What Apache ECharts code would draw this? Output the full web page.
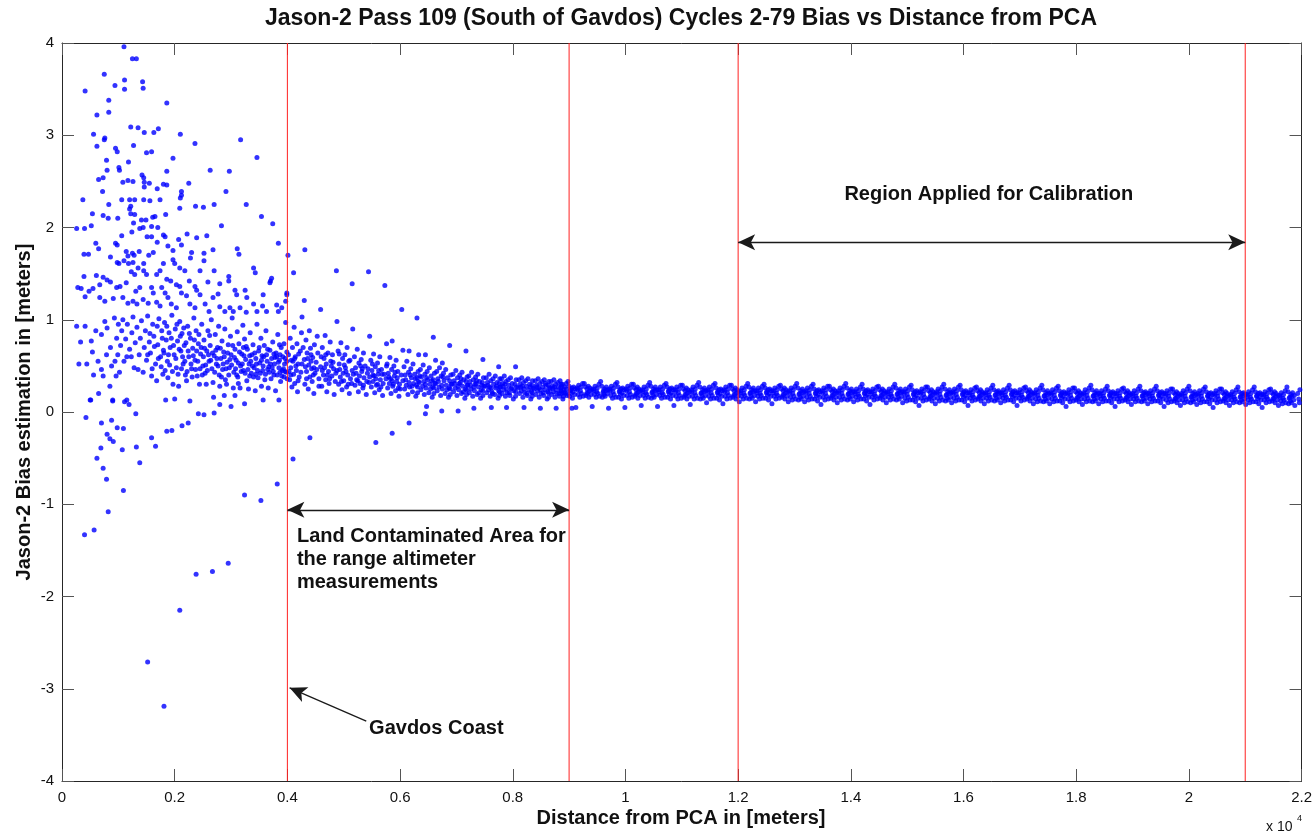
<!DOCTYPE html>
<html>
<head>
<meta charset="utf-8">
<title>Jason-2 Pass 109 Bias vs Distance</title>
<script src="https://cdn.jsdelivr.net/npm/echarts@6/dist/echarts.min.js"></script>
<style>
  html, body { margin: 0; padding: 0; background: #fff; }
  #divChart { width: 1315px; height: 832px; }
</style>
</head>
<body>
<div id="divChart"></div>
<script>
// distance from PCA in meters, bias in meters

// points above 1.05 m near the coast
var coastHigh = [
  [1100,3.96],[1250,3.83],[1320,3.83],[750,3.66],[1110,3.60],[1430,3.58],[1440,3.51],[410,3.48],[940,3.54],[1110,3.50],
  [830,3.38],[1860,3.35],[830,3.25],[620,3.22],[1220,3.09],[1350,3.08],[1460,3.03],[1630,3.03],[1710,3.07],[2100,3.01],
  [560,3.01],[760,2.97],[750,2.95],[620,2.88],[1270,2.89],[950,2.86],[2360,2.91],[3170,2.95],[1500,2.81],[1590,2.82],
  [980,2.82],[3460,2.76],[1970,2.75],[790,2.73],[1010,2.65],[1020,2.62],[1180,2.71],[2630,2.62],[2970,2.61],[1860,2.61],
  [800,2.62],[1420,2.57],[1450,2.54],[650,2.52],[730,2.54],[1080,2.49],[1170,2.51],[1260,2.50],[1460,2.49],[1550,2.48],
  [1800,2.47],[1860,2.46],[2250,2.48],[1460,2.44],[720,2.39],[1690,2.42],[2120,2.39],[2120,2.35],[2910,2.39],[1060,2.30],
  [1200,2.30],[1290,2.30],[1450,2.30],[1560,2.29],[370,2.30],[830,2.25],[1740,2.30],[3270,2.25],[1220,2.23],[1200,2.20],
  [2370,2.23],[2510,2.22],[2090,2.21],[2700,2.25],[2100,2.32],[540,2.15],[730,2.13],[820,2.10],[1220,2.15],[1290,2.14],
  [1610,2.11],[1650,2.12],[1840,2.14],[990,2.10],[1410,2.08],[1490,2.08],[3540,2.12],[1270,2.05],[3740,2.04],[1590,2.01],
  [1700,2.00],[260,1.99],[400,1.99],[520,2.02],[2830,2.02],[1380,1.99],[1440,2.00],[1240,1.95],[1510,1.90],[1590,1.90],
  [1060,1.91],[600,1.83],[650,1.77],[950,1.83],[980,1.81],[1800,1.92],[1830,1.90],[1690,1.84],[2070,1.87],[2120,1.81],
  [2220,1.93],[2390,1.89],[2570,1.91],[2680,1.76],[3110,1.77],[3840,1.83],[1140,1.74],[1170,1.69],[1250,1.72],[1280,1.70],
  [1370,1.74],[1540,1.70],[1620,1.73],[390,1.71],[470,1.71],[860,1.68],[1880,1.80],[1970,1.75],[2300,1.73],[2280,1.67],
  [2520,1.72],[2520,1.64],[3140,1.71],[980,1.62],[1010,1.61],[1100,1.64],[1180,1.61],[1260,1.62],[1350,1.56],[1450,1.61],
  [1800,1.61],[1970,1.65],[2000,1.61],[2090,1.56],[2180,1.53],[2450,1.53],[2700,1.53],[610,1.48],[390,1.47],[730,1.46],
  [1230,1.52],[1290,1.49],[1450,1.53],[1500,1.49],[1680,1.49],[1740,1.53],[1860,1.44],[1930,1.42],[2030,1.38],[2090,1.36],
  [2260,1.42],[2360,1.36],[2590,1.41],[2800,1.39],[2960,1.47],[2960,1.42],[3400,1.56],[3430,1.51],[3700,1.42],[280,1.35],
  [340,1.34],[480,1.31],[550,1.34],[670,1.38],[800,1.43],[860,1.41],[970,1.35],[1030,1.36],[1140,1.40],[1310,1.31],
  [1380,1.35],[1590,1.35],[1620,1.29],[1770,1.35],[1830,1.29],[1880,1.24],[2120,1.29],[2210,1.26],[2390,1.32],[2450,1.27],
  [2680,1.24],[2770,1.28],[3070,1.32],[3100,1.27],[3250,1.32],[3280,1.24],[3570,1.27],[410,1.25],[670,1.24],[760,1.20],
  [910,1.23],[1080,1.24],[1170,1.18],[1260,1.20],[1330,1.17],[1440,1.22],[1530,1.18],[1680,1.19],[1740,1.15],[1940,1.17],
  [2030,1.13],[2270,1.17],[2360,1.13],[2540,1.17],[2610,1.09],[2800,1.14],[2890,1.09],[2980,1.13],[3040,1.09],[3160,1.13],
  [3270,1.08],[3400,1.17],[3460,1.09],[3560,1.15],[3630,1.09],[3810,1.16],[3900,1.13],[3990,1.27]
];

// main cloud near the coast, 0 to about 1 m
var coastCore = [
  [260,0.93],[300,0.52],[330,0.76],[410,0.93],[440,0.52],[500,0.13],[520,0.77],[540,0.65],[560,0.40],[600,0.88],
  [640,0.55],[650,0.20],[700,0.46],[700,0.84],[730,0.39],[760,0.98],[790,0.62],[800,0.91],[850,0.28],[860,0.70],
  [880,0.50],[900,0.12],[930,1.02],[940,0.55],[960,0.39],[970,0.80],[990,0.62],[1000,0.95],
  [1020,0.43],[1040,0.72],[1060,0.88],[1080,1.00],[1100,0.55],[1110,0.11],[1130,0.79],[1150,0.60],[1160,0.95],[1190,0.08],
  [1200,0.68],[1230,0.60],[1240,0.86],[1260,1.03],[1280,0.48],[1300,0.75],[1330,0.92],[1350,0.46],[1370,0.62],[1390,0.80],
  [1410,0.99],[1440,0.43],[1460,0.70],[1480,0.88],[1500,0.56],[1520,1.04],[1550,0.76],[1570,0.64],[1590,0.39],[1610,0.95],
  [1630,0.82],[1660,0.52],[1680,0.34],[1700,0.73],[1720,1.01],[1750,0.60],[1770,0.88],[1790,0.41],[1800,0.67],[1820,0.97],
  [1850,0.78],[1870,0.55],[1880,0.37],[1900,0.86],[1920,0.70],[1950,1.05],[1970,0.30],[1990,0.62],[2000,0.14],[2010,0.90],
  [2030,0.48],[2050,0.77],[2070,0.28],[2090,0.98],[2110,0.66],[2130,0.85],[2150,0.52],[2170,0.72],[2190,0.40],[2210,0.34],
  [2230,0.93],[2250,0.60],[2270,0.12],[2280,0.80],[2300,0.47],[2320,0.69],[2340,1.02],[2360,0.56],[2380,0.88],[2400,0.39],
  [2420,0.74],[2440,0.30],[2460,0.63],[2480,0.95],[2500,0.50],
  [2520,0.78],[2540,0.42],[2560,0.30],[2570,0.66],[2590,0.88],[2610,0.55],[2630,0.72],[2650,1.00],[2660,0.47],[2680,0.32],
  [2690,0.16],[2700,0.61],[2720,0.84],[2740,0.52],[2760,0.70],[2780,0.93],[2790,0.40],[2800,0.28],[2820,0.58],[2840,0.77],
  [2850,0.46],[2870,0.65],[2890,0.90],[2900,0.35],[2920,0.30],[2930,0.54],[2950,0.73],[2970,0.48],[2990,0.82],[3000,0.62],
  [3020,1.02],[3040,0.26],[3050,0.43],[3070,0.18],[3070,0.68],[3090,0.56],[3110,0.87],[3120,0.38],[3140,0.74],[3160,0.26],
  [3170,0.50],[3190,0.63],[3210,0.94],[3220,0.45],[3240,0.79],[3260,0.57],[3280,0.34],[3290,0.68],[3310,0.25],[3320,0.52],
  [3340,0.86],[3360,0.42],[3370,0.62],[3390,0.73],[3410,0.48],[3430,0.23],[3440,0.58],[3460,0.95],[3480,0.37],[3490,0.66],
  [3510,0.53],[3530,0.80],[3540,0.28],[3560,0.45],[3580,0.60],[3590,0.72],[3610,0.41],[3620,0.88],[3640,0.55],[3660,0.26],
  [3670,0.49],[3690,0.67],[3710,0.36],[3720,0.58],[3740,0.76],[3750,0.44],[3770,0.52],[3790,0.23],[3800,0.64],[3820,0.40],
  [3830,0.84],[3850,0.48],[3860,0.56],[3880,0.33],[3890,0.70],[3910,0.45],[3920,0.60],[3940,0.38],[3950,0.52],[3970,0.97],
  [3980,0.43],[3990,0.65],
  [2600,0.62],[2750,0.58],[2860,0.52],[2980,0.57],[3080,0.47],[3180,0.44],[3230,0.61],[3300,0.46],[3350,0.55],[3420,0.64],
  [3470,0.45],[3520,0.42],[3570,0.50],[3630,0.62],[3680,0.43],[3730,0.48],[3780,0.59],[3840,0.54],[3870,0.43],[3930,0.47],
  [3960,0.58],
  [2800,0.08],[2880,0.18],[3000,0.06],[3240,0.09],[3570,0.13],[3850,0.13],[2420,-0.02],[2520,-0.03],[2700,-0.01],[2130,-0.15],
  [2240,-0.12],[1150,0.13],[1840,0.13],[900,0.13],[510,0.13]
];

// extra density in the coastal cloud, 1.5 to 6 km
var coastExtra = [
  [1520,0.62],[1560,0.85],[1600,0.47],[1640,0.71],[1690,0.93],[1710,0.58],[1760,0.49],[1780,0.80],[1810,0.64],[1830,0.45],
  [1860,0.93],[1890,0.62],[1910,0.51],[1940,0.80],[1960,0.44],[1980,0.72],[2020,0.58],[2040,0.95],[2060,0.41],[2080,0.68],
  [2100,0.82],[2120,0.47],[2140,0.60],[2160,0.91],[2180,0.55],[2200,0.75],[2220,0.44],[2240,0.66],[2260,0.85],[2290,0.52],
  [2310,0.38],[2330,0.61],[2350,0.78],[2370,0.46],[2390,0.66],[2410,0.55],[2430,0.84],[2450,0.47],[2470,0.70],[2490,0.40],
  [2510,0.60],[2530,0.69],[2550,0.51],[2580,0.45],[2620,0.83],[2640,0.56],[2670,0.64],[2710,0.43],[2730,0.67],[2770,0.50],
  [2810,0.69],[2830,0.38],[2880,0.60],[2910,0.47],[2940,0.64],[2960,0.40],[3010,0.51],[3030,0.72],[3060,0.59],[3100,0.40],
  [3130,0.53],[3150,0.65],[3200,0.52],[3250,0.42],[3270,0.71],[3330,0.61],[3380,0.50],[3400,0.38],[3450,0.52],[3500,0.70],
  [3550,0.61],[3600,0.35],[3650,0.68],[3700,0.52],[3760,0.40],[3810,0.60],[3870,0.62],[3900,0.39],[3960,0.44],[3990,0.55],
  [3995,0.36],[3940,0.74],[3860,0.73],[3760,0.63],[3650,0.46],[3540,0.56],[3440,0.41],[3330,0.39],[3220,0.70],[3130,0.31],
  [4030,0.44],[4070,0.56],[4150,0.50],[4200,0.63],[4240,0.43],[4320,0.49],[4360,0.58],[4420,0.62],[4460,0.40],[4520,0.46],
  [4560,0.36],[4600,0.60],[4660,0.48],[4710,0.40],[4780,0.50],[4850,0.33],[4930,0.46],[5010,0.51],[5080,0.30],[5150,0.45],
  [5250,0.34],[5330,0.47],[5420,0.42],[5520,0.40],[5600,0.30],[5680,0.41],[5800,0.38],[5880,0.30],[5950,0.37],[6000,0.25]
];

// negative outliers
var coastLow = [
  [425,-0.06],[700,-0.12],[880,-0.09],[800,-0.24],[850,-0.29],[910,-0.32],[980,-0.17],[1090,-0.18],[1070,-0.41],[620,-0.50],
  [690,-0.39],[730,-0.61],[790,-0.73],[1090,-0.85],[820,-1.08],[400,-1.33],[570,-1.28],[1310,-0.02],[1320,-0.38],[1380,-0.55],
  [1590,-0.28],[1660,-0.37],[1860,-0.21],[1950,-0.20],[2090,-2.15],[2380,-1.76],[2670,-1.73],[2950,-1.64],[3240,-0.90],[3530,-0.96],
  [3820,-0.78],[1520,-2.71],[1810,-3.19],[4100,-0.51],[4400,-0.28],[5570,-0.33],[5860,-0.23],[6160,-0.12],[6450,-0.02]
];

// 4 to 9 km, cloud narrowing offshore
var shelfOutliers = [
  [4010,1.70],[4310,1.76],[4110,1.51],[4870,1.53],[5440,1.52],[5150,1.39],[5730,1.37],[3990,1.29],[3720,1.45],[3690,1.40],
  [3970,1.20],[4300,1.21],[4590,1.11],[6030,1.11],[6300,1.02],[3840,1.09],[4260,1.03],[4880,0.98],[5160,0.90],[5460,0.82],
  [6590,0.81],[6880,0.72],[7170,0.66],[7470,0.57],[5760,0.74],[5860,0.77],[6050,0.67],[6160,0.66],[6330,0.62],[6450,0.62],
  [6630,0.56],[6750,0.53],[7750,0.49],[8050,0.49],[6470,0.06],[7030,0.01],[6740,0.01],[7310,0.04],[7620,0.05],[7890,0.05],
  [8200,0.05],[8490,0.04],[8770,0.04],[9050,0.04]
];

var shelf = [
  [4020,0.62],[4040,0.35],[4050,0.80],[4060,0.48],[4080,0.27],[4090,0.70],[4100,0.55],[4110,0.41],[4120,0.92],[4130,0.31],
  [4140,0.60],[4160,0.45],[4170,0.74],[4180,0.22],[4190,0.52],[4210,0.38],[4230,0.66],[4250,0.86],
  [4300,0.57],[4310,0.30],[4330,0.78],[4340,0.44],[4350,0.64],[4370,0.25],[4380,0.51],[4390,0.88],[4400,0.38],[4410,0.69],
  [4430,0.47],[4440,0.33],[4450,0.59],[4470,0.20],[4480,0.73],[4490,0.42],[4510,0.54],[4530,0.82],
  [4590,0.49],[4610,0.28],[4620,0.70],[4640,0.40],[4650,0.58],[4670,0.83],[4680,0.35],[4690,0.52],[4700,0.22],[4720,0.64],
  [4730,0.44],[4740,0.31],[4760,0.76],[4770,0.55],[4790,0.39],[4800,0.62],[4820,0.47],[4830,0.19],
  [4880,0.45],[4900,0.66],[4910,0.30],[4920,0.52],[4940,0.38],[4950,0.75],[4970,0.24],[4980,0.58],[4990,0.42],[5000,0.34],
  [5020,0.62],[5030,0.48],[5050,0.27],[5060,0.70],[5070,0.40],[5090,0.55],[5100,0.20],[5120,0.36],
  [5170,0.41],[5190,0.60],[5200,0.29],[5210,0.48],[5230,0.35],[5240,0.68],[5260,0.22],[5270,0.53],[5280,0.39],[5290,0.31],
  [5310,0.57],[5320,0.44],[5340,0.26],[5350,0.64],[5360,0.37],[5380,0.50],[5400,0.19],[5410,0.33],
  [5460,0.38],[5480,0.56],[5490,0.27],[5500,0.45],[5520,0.33],[5530,0.63],[5550,0.21],[5560,0.49],[5570,0.36],[5580,0.29],
  [5600,0.53],[5610,0.41],[5630,0.24],[5640,0.60],[5650,0.35],[5670,0.46],[5690,0.18],[5700,0.31],
  [5750,0.36],[5770,0.52],[5780,0.26],[5790,0.42],[5810,0.31],[5820,0.59],[5840,0.20],[5850,0.46],[5860,0.34],[5870,0.28],
  [5890,0.50],[5900,0.39],[5920,0.23],[5930,0.56],[5940,0.33],[5960,0.44],[5980,0.17],[5990,0.30],
  [6050,0.34],[6070,0.49],[6080,0.25],[6090,0.40],[6110,0.29],[6120,0.55],[6140,0.19],[6150,0.43],[6160,0.32],[6170,0.27],
  [6190,0.47],[6200,0.37],[6220,0.22],[6230,0.52],[6240,0.31],[6260,0.41],[6280,0.17],[6290,0.29],
  [6340,0.32],[6360,0.46],[6370,0.24],[6380,0.38],[6400,0.28],[6410,0.51],[6430,0.19],[6440,0.41],[6450,0.30],[6460,0.26],
  [6480,0.44],[6490,0.35],[6510,0.21],[6520,0.48],[6530,0.30],[6550,0.39],[6570,0.16],[6580,0.27],
  [6630,0.31],[6650,0.44],[6660,0.23],[6670,0.36],[6690,0.27],[6700,0.48],[6720,0.18],[6730,0.39],[6740,0.29],[6750,0.25],
  [6770,0.42],[6780,0.34],[6800,0.20],[6810,0.46],[6820,0.29],[6840,0.37],[6860,0.16],[6870,0.26],
  [6920,0.30],[6940,0.41],[6950,0.22],[6960,0.34],[6980,0.26],[6990,0.45],[7010,0.18],[7020,0.37],[7030,0.28],[7040,0.24],
  [7060,0.40],[7070,0.32],[7090,0.20],[7100,0.43],[7110,0.28],[7130,0.35],[7150,0.15],[7160,0.25],
  [7200,0.29],[7220,0.39],[7230,0.21],[7240,0.33],[7260,0.25],[7270,0.43],[7290,0.17],[7300,0.35],[7310,0.27],[7320,0.23],
  [7340,0.38],[7350,0.31],[7370,0.19],[7380,0.41],[7390,0.27],[7410,0.33],[7430,0.15],[7440,0.24],
  [7510,0.28],[7530,0.37],[7540,0.21],[7550,0.32],[7570,0.24],[7580,0.41],[7600,0.17],[7610,0.34],[7620,0.26],[7630,0.22],
  [7650,0.36],[7660,0.30],[7680,0.19],[7690,0.39],[7700,0.26],[7720,0.32],[7740,0.15],[7750,0.23],
  [7780,0.27],[7800,0.36],[7810,0.20],[7820,0.31],[7840,0.24],[7850,0.39],[7870,0.17],[7880,0.33],[7890,0.25],[7900,0.21],
  [7920,0.35],[7930,0.29],[7950,0.18],[7960,0.37],[7970,0.25],[7990,0.31],[8010,0.14],[8020,0.23],
  [8090,0.26],[8110,0.35],[8120,0.20],[8130,0.30],[8150,0.23],[8160,0.37],[8180,0.16],[8190,0.32],[8200,0.25],[8210,0.21],
  [8230,0.34],[8240,0.28],[8260,0.18],[8270,0.36],[8280,0.24],[8300,0.30],[8320,0.14],[8330,0.22],
  [8380,0.25],[8400,0.34],[8410,0.19],[8420,0.29],[8440,0.23],[8450,0.36],[8470,0.16],[8480,0.31],[8490,0.24],[8500,0.20],
  [8520,0.33],[8530,0.27],[8550,0.18],[8560,0.35],[8570,0.24],[8590,0.29],[8610,0.14],[8620,0.22],
  [8660,0.25],[8680,0.33],[8690,0.19],[8700,0.28],[8720,0.22],[8730,0.35],[8750,0.16],[8760,0.30],[8770,0.24],[8780,0.20],
  [8800,0.32],[8810,0.27],[8830,0.17],[8840,0.34],[8850,0.23],[8870,0.28],[8890,0.14],[8900,0.21]
];

// samples falling between the shelf tracks
var shelfFill = [
  [6300,0.37],[6310,0.27],[6320,0.44],[6310,0.21],[6325,0.33],[6590,0.35],[6600,0.26],[6610,0.42],[6600,0.20],[6615,0.31],
  [6880,0.34],[6890,0.25],[6900,0.40],[6890,0.19],[6905,0.30],[7170,0.33],[7180,0.24],[7190,0.38],[7180,0.19],[7195,0.29],
  [7460,0.32],[7470,0.23],[7480,0.37],[7470,0.18],[7485,0.28],[7760,0.31],[7765,0.22],[7770,0.36],[7765,0.18],[7775,0.27],
  [8040,0.30],[8050,0.22],[8060,0.35],[8050,0.17],[8065,0.27],[8340,0.29],[8345,0.21],[8350,0.34],[8345,0.17],[8360,0.26],
  [8630,0.29],[8635,0.21],[8640,0.33],[8635,0.16],[8650,0.26],
  [7050,0.31],[7120,0.22],[7330,0.30],[7400,0.21],[7560,0.29],[7640,0.20],[7830,0.28],[7940,0.21],[8140,0.27],[8250,0.20],
  [8430,0.27],[8540,0.21],[8710,0.26],[8820,0.20],[8950,0.25],[8960,0.20],
  [4060,0.40],[4130,0.58],[4190,0.34],[4260,0.52],[4280,0.70],[4340,0.36],[4420,0.55],[4470,0.48],[4540,0.64],[4560,0.28],
  [4620,0.45],[4680,0.62],[4750,0.36],[4810,0.54],[4860,0.42],[4920,0.63],[4960,0.33],[5040,0.44],[5110,0.56],[5140,0.31],
  [5220,0.42],[5300,0.50],[5350,0.29],[5430,0.47],[5450,0.32],[5510,0.52],[5540,0.39],[5620,0.45],[5660,0.27],[5720,0.41],
  [5760,0.50],[5830,0.36],[5910,0.43],[5970,0.26],[6020,0.40],[6100,0.35],[6180,0.40],[6210,0.28],[6270,0.36],[6350,0.39],
  [6420,0.33],[6470,0.37],[6540,0.25],[6560,0.34],[6680,0.33],[6760,0.38],[6830,0.24],[6970,0.31],[7080,0.36],[7250,0.29],
  [7360,0.34],[7450,0.29],[7590,0.27],[7710,0.28],[7860,0.30],[7980,0.26],[8170,0.28],[8310,0.27],[8460,0.26],[8580,0.31],
  [8740,0.27],[8860,0.30]
];

// open sea, 9 to 22 km
var openSea = [
  [8980,0.33],[9000,0.28],[9010,0.17],[9030,0.24],[9040,0.20],[9050,0.26],[9060,0.15],[9070,0.22],[9080,0.27],[9100,0.19],[9110,0.25],[9120,0.05],[9020,0.23],
  [9270,0.31],[9290,0.27],[9300,0.18],[9320,0.25],[9330,0.21],[9340,0.28],[9350,0.16],[9360,0.23],[9370,0.26],[9390,0.19],[9400,0.24],[9410,0.06],[9310,0.20],
  [9560,0.33],[9580,0.28],[9590,0.16],[9610,0.23],[9620,0.19],[9630,0.25],[9640,0.17],[9650,0.23],[9660,0.27],[9680,0.20],[9690,0.24],[9700,0.04],[9600,0.21],
  [9850,0.32],[9870,0.27],[9880,0.16],[9900,0.23],[9910,0.19],[9920,0.25],[9930,0.14],[9940,0.21],[9950,0.26],[9970,0.18],[9980,0.24],[9990,0.05],[9890,0.22],
  [10140,0.30],[10160,0.26],[10170,0.17],[10190,0.24],[10200,0.20],[10210,0.27],[10220,0.15],[10230,0.22],[10240,0.25],[10260,0.18],[10270,0.23],[10280,0.07],[10180,0.19],
  [10430,0.32],[10450,0.28],[10460,0.15],[10480,0.22],[10490,0.18],[10500,0.25],[10510,0.16],[10520,0.23],[10530,0.27],[10550,0.19],[10560,0.24],[10570,0.06],[10470,0.21],
  [10720,0.31],[10740,0.27],[10750,0.16],[10770,0.23],[10780,0.19],[10790,0.25],[10800,0.14],[10810,0.21],[10820,0.26],[10840,0.18],[10850,0.24],[10860,0.07],[10760,0.22],
  [11010,0.29],[11030,0.25],[11040,0.16],[11060,0.23],[11070,0.19],[11080,0.26],[11090,0.14],[11100,0.21],[11110,0.24],[11130,0.17],[11140,0.22],[11150,0.08],[11050,0.18],
  [11300,0.32],[11320,0.27],[11330,0.14],[11350,0.21],[11360,0.17],[11370,0.24],[11380,0.15],[11390,0.22],[11400,0.26],[11420,0.18],[11430,0.23],[11440,0.10],[11340,0.20],
  [11590,0.31],[11610,0.26],[11620,0.15],[11640,0.22],[11650,0.18],[11660,0.24],[11670,0.13],[11680,0.20],[11690,0.25],[11710,0.17],[11720,0.23],[11730,0.09],[11630,0.21],
  [11880,0.29],[11900,0.25],[11910,0.16],[11930,0.23],[11940,0.19],[11950,0.26],[11960,0.14],[11970,0.21],[11980,0.24],[12000,0.17],[12010,0.22],[12020,0.11],[11920,0.18],
  [12170,0.31],[12190,0.27],[12200,0.14],[12220,0.21],[12230,0.17],[12240,0.24],[12250,0.15],[12260,0.22],[12270,0.26],[12290,0.18],[12300,0.23],[12310,0.11],[12210,0.20],
  [12460,0.30],[12480,0.26],[12490,0.15],[12510,0.22],[12520,0.18],[12530,0.24],[12540,0.13],[12550,0.20],[12560,0.25],[12580,0.17],[12590,0.23],[12600,0.09],[12500,0.21],
  [12750,0.29],[12770,0.25],[12780,0.16],[12800,0.23],[12810,0.19],[12820,0.26],[12830,0.14],[12840,0.21],[12850,0.24],[12870,0.17],[12880,0.22],[12890,0.11],[12790,0.18],
  [13040,0.31],[13060,0.26],[13070,0.13],[13090,0.20],[13100,0.16],[13110,0.23],[13120,0.14],[13130,0.21],[13140,0.25],[13160,0.17],[13170,0.22],[13180,0.11],[13080,0.19],
  [13330,0.30],[13350,0.25],[13360,0.14],[13380,0.21],[13390,0.17],[13400,0.23],[13410,0.12],[13420,0.19],[13430,0.24],[13450,0.16],[13460,0.22],[13470,0.08],[13370,0.20],
  [13620,0.28],[13640,0.24],[13650,0.15],[13670,0.22],[13680,0.18],[13690,0.25],[13700,0.13],[13710,0.20],[13720,0.23],[13740,0.16],[13750,0.21],[13760,0.10],[13660,0.17],
  [13910,0.31],[13930,0.26],[13940,0.13],[13960,0.20],[13970,0.16],[13980,0.23],[13990,0.14],[14000,0.21],[14010,0.25],[14030,0.17],[14040,0.22],[14050,0.11],[13950,0.19],
  [14200,0.30],[14220,0.25],[14230,0.14],[14250,0.21],[14260,0.17],[14270,0.23],[14280,0.12],[14290,0.19],[14300,0.24],[14320,0.16],[14330,0.22],[14340,0.08],[14240,0.20],
  [14490,0.28],[14510,0.24],[14520,0.15],[14540,0.22],[14550,0.18],[14560,0.25],[14570,0.13],[14580,0.20],[14590,0.23],[14610,0.16],[14620,0.21],[14630,0.10],[14530,0.17],
  [14780,0.30],[14800,0.26],[14810,0.13],[14830,0.20],[14840,0.16],[14850,0.23],[14860,0.14],[14870,0.21],[14880,0.25],[14900,0.17],[14910,0.22],[14920,0.10],[14820,0.19],
  [15070,0.29],[15090,0.24],[15100,0.13],[15120,0.20],[15130,0.16],[15140,0.22],[15150,0.11],[15160,0.18],[15170,0.23],[15190,0.15],[15200,0.21],[15210,0.07],[15110,0.19],
  [15360,0.27],[15380,0.23],[15390,0.14],[15410,0.21],[15420,0.17],[15430,0.24],[15440,0.12],[15450,0.19],[15460,0.22],[15480,0.15],[15490,0.20],[15500,0.09],[15400,0.16],
  [15650,0.30],[15670,0.25],[15680,0.12],[15700,0.19],[15710,0.15],[15720,0.22],[15730,0.13],[15740,0.20],[15750,0.24],[15770,0.16],[15780,0.21],[15790,0.10],[15690,0.18],
  [15940,0.29],[15960,0.24],[15970,0.13],[15990,0.20],[16000,0.16],[16010,0.22],[16020,0.11],[16030,0.18],[16040,0.23],[16060,0.15],[16070,0.21],[16080,0.07],[15980,0.19],
  [16230,0.27],[16250,0.23],[16260,0.14],[16280,0.21],[16290,0.17],[16300,0.24],[16310,0.12],[16320,0.19],[16330,0.22],[16350,0.15],[16360,0.20],[16370,0.09],[16270,0.16],
  [16520,0.29],[16540,0.24],[16550,0.12],[16570,0.19],[16580,0.15],[16590,0.22],[16600,0.13],[16610,0.20],[16620,0.23],[16640,0.16],[16650,0.21],[16660,0.10],[16560,0.18],
  [16810,0.29],[16830,0.24],[16840,0.13],[16860,0.20],[16870,0.16],[16880,0.22],[16890,0.11],[16900,0.18],[16910,0.23],[16930,0.15],[16940,0.21],[16950,0.07],[16850,0.19],
  [17100,0.27],[17120,0.23],[17130,0.14],[17150,0.21],[17160,0.17],[17170,0.24],[17180,0.12],[17190,0.19],[17200,0.22],[17220,0.15],[17230,0.20],[17240,0.09],[17140,0.16],
  [17390,0.29],[17410,0.24],[17420,0.11],[17440,0.18],[17450,0.14],[17460,0.21],[17470,0.12],[17480,0.19],[17490,0.23],[17510,0.15],[17520,0.20],[17530,0.09],[17430,0.17],
  [17680,0.28],[17700,0.23],[17710,0.12],[17730,0.19],[17740,0.15],[17750,0.21],[17760,0.10],[17770,0.17],[17780,0.22],[17800,0.14],[17810,0.20],[17820,0.06],[17720,0.18],
  [17970,0.26],[17990,0.22],[18000,0.13],[18020,0.20],[18030,0.16],[18040,0.23],[18050,0.11],[18060,0.18],[18070,0.21],[18090,0.14],[18100,0.19],[18110,0.08],[18010,0.15],
  [18260,0.29],[18280,0.24],[18290,0.11],[18310,0.18],[18320,0.14],[18330,0.21],[18340,0.12],[18350,0.19],[18360,0.23],[18380,0.15],[18390,0.20],[18400,0.09],[18300,0.17],
  [18550,0.28],[18570,0.23],[18580,0.12],[18600,0.19],[18610,0.15],[18620,0.21],[18630,0.10],[18640,0.17],[18650,0.22],[18670,0.14],[18680,0.20],[18690,0.06],[18590,0.18],
  [18840,0.26],[18860,0.22],[18870,0.13],[18890,0.20],[18900,0.16],[18910,0.23],[18920,0.11],[18930,0.18],[18940,0.21],[18960,0.14],[18970,0.19],[18980,0.08],[18880,0.15],
  [19130,0.28],[19150,0.23],[19160,0.11],[19180,0.18],[19190,0.14],[19200,0.21],[19210,0.12],[19220,0.19],[19230,0.22],[19250,0.15],[19260,0.20],[19270,0.09],[19170,0.17],
  [19420,0.28],[19440,0.23],[19450,0.12],[19470,0.19],[19480,0.15],[19490,0.21],[19500,0.10],[19510,0.17],[19520,0.22],[19540,0.14],[19550,0.20],[19560,0.06],[19460,0.18],
  [19710,0.25],[19730,0.21],[19740,0.12],[19760,0.19],[19770,0.15],[19780,0.22],[19790,0.10],[19800,0.17],[19810,0.20],[19830,0.13],[19840,0.18],[19850,0.07],[19750,0.14],
  [20000,0.28],[20020,0.23],[20030,0.10],[20050,0.17],[20060,0.13],[20070,0.20],[20080,0.11],[20090,0.18],[20100,0.22],[20120,0.14],[20130,0.19],[20140,0.08],[20040,0.16],
  [20290,0.27],[20310,0.22],[20320,0.11],[20340,0.18],[20350,0.14],[20360,0.20],[20370,0.09],[20380,0.16],[20390,0.21],[20410,0.13],[20420,0.19],[20430,0.05],[20330,0.17],
  [20580,0.25],[20600,0.21],[20610,0.12],[20630,0.19],[20640,0.15],[20650,0.22],[20660,0.10],[20670,0.17],[20680,0.20],[20700,0.13],[20710,0.18],[20720,0.07],[20620,0.14],
  [20870,0.27],[20890,0.22],[20900,0.10],[20920,0.17],[20930,0.13],[20940,0.20],[20950,0.11],[20960,0.18],[20970,0.21],[20990,0.14],[21000,0.19],[21010,0.08],[20910,0.16],
  [21160,0.27],[21180,0.22],[21190,0.11],[21210,0.18],[21220,0.14],[21230,0.20],[21240,0.09],[21250,0.16],[21260,0.21],[21280,0.13],[21290,0.19],[21300,0.05],[21200,0.17],
  [21450,0.25],[21470,0.21],[21480,0.12],[21500,0.19],[21510,0.15],[21520,0.22],[21530,0.10],[21540,0.17],[21550,0.20],[21570,0.13],[21580,0.18],[21590,0.07],[21490,0.14],
  [21740,0.27],[21760,0.22],[21770,0.09],[21790,0.16],[21800,0.12],[21810,0.19],[21820,0.10],[21830,0.17],[21840,0.21],[21860,0.13],[21870,0.18],[21880,0.07],[21780,0.15],
  [21930,0.20],[21950,0.14],[21960,0.10],[21970,0.24]
];

// open sea samples falling between the tracks
var openSeaFill = [
  [8850,0.26],[8870,0.20],[8880,0.30],[8900,0.17],[8910,0.24],[8920,0.27],[8930,0.21],[8950,0.31],[8960,0.18],[8860,0.23],
  [9140,0.26],[9160,0.19],[9170,0.29],[9190,0.16],[9200,0.23],[9210,0.27],[9220,0.20],[9240,0.31],[9250,0.17],[9150,0.24],
  [9430,0.25],[9450,0.19],[9460,0.28],[9480,0.16],[9490,0.22],[9500,0.26],[9510,0.20],[9530,0.30],[9540,0.17],[9440,0.23],
  [9720,0.25],[9740,0.18],[9750,0.28],[9770,0.15],[9780,0.22],[9790,0.26],[9800,0.19],[9820,0.30],[9830,0.16],[9730,0.23],
  [10010,0.25],[10030,0.18],[10040,0.28],[10060,0.15],[10070,0.22],[10080,0.26],[10090,0.19],[10110,0.30],[10120,0.16],[10020,0.23],
  [10300,0.24],[10320,0.18],[10330,0.27],[10350,0.15],[10360,0.21],[10370,0.25],[10380,0.19],[10400,0.29],[10410,0.16],[10310,0.22],
  [10590,0.24],[10610,0.18],[10620,0.27],[10640,0.15],[10650,0.21],[10660,0.25],[10670,0.19],[10690,0.29],[10700,0.16],[10600,0.22],
  [10880,0.24],[10900,0.17],[10910,0.27],[10930,0.14],[10940,0.21],[10950,0.25],[10960,0.18],[10980,0.29],[10990,0.15],[10890,0.22],
  [11170,0.24],[11190,0.17],[11200,0.27],[11220,0.14],[11230,0.21],[11240,0.25],[11250,0.18],[11270,0.29],[11280,0.15],[11180,0.22],
  [11460,0.24],[11480,0.17],[11490,0.27],[11510,0.14],[11520,0.21],[11530,0.25],[11540,0.18],[11560,0.29],[11570,0.15],[11470,0.22],
  [11750,0.24],[11770,0.17],[11780,0.27],[11800,0.14],[11810,0.21],[11820,0.25],[11830,0.18],[11850,0.29],[11860,0.15],[11760,0.22],
  [12040,0.23],[12060,0.17],[12070,0.26],[12090,0.14],[12100,0.20],[12110,0.24],[12120,0.18],[12140,0.28],[12150,0.15],[12050,0.21],
  [12330,0.23],[12350,0.17],[12360,0.26],[12380,0.14],[12390,0.20],[12400,0.24],[12410,0.18],[12430,0.28],[12440,0.15],[12340,0.21],
  [12620,0.23],[12640,0.17],[12650,0.26],[12670,0.14],[12680,0.20],[12690,0.24],[12700,0.18],[12720,0.28],[12730,0.15],[12630,0.21],
  [12910,0.23],[12930,0.16],[12940,0.26],[12960,0.13],[12970,0.20],[12980,0.24],[12990,0.17],[13010,0.28],[13020,0.14],[12920,0.21],
  [13200,0.23],[13220,0.16],[13230,0.26],[13250,0.13],[13260,0.20],[13270,0.24],[13280,0.17],[13300,0.28],[13310,0.14],[13210,0.21],
  [13490,0.23],[13510,0.16],[13520,0.26],[13540,0.13],[13550,0.20],[13560,0.24],[13570,0.17],[13590,0.28],[13600,0.14],[13500,0.21],
  [13780,0.23],[13800,0.16],[13810,0.26],[13830,0.13],[13840,0.20],[13850,0.24],[13860,0.17],[13880,0.28],[13890,0.14],[13790,0.21],
  [14070,0.22],[14090,0.16],[14100,0.25],[14120,0.13],[14130,0.19],[14140,0.23],[14150,0.17],[14170,0.27],[14180,0.14],[14080,0.20],
  [14360,0.22],[14380,0.16],[14390,0.25],[14410,0.13],[14420,0.19],[14430,0.23],[14440,0.17],[14460,0.27],[14470,0.14],[14370,0.20],
  [14650,0.22],[14670,0.16],[14680,0.25],[14700,0.13],[14710,0.19],[14720,0.23],[14730,0.17],[14750,0.27],[14760,0.14],[14660,0.20],
  [14940,0.22],[14960,0.15],[14970,0.25],[14990,0.12],[15000,0.19],[15010,0.23],[15020,0.16],[15040,0.27],[15050,0.13],[14950,0.20],
  [15230,0.22],[15250,0.15],[15260,0.25],[15280,0.12],[15290,0.19],[15300,0.23],[15310,0.16],[15330,0.27],[15340,0.13],[15240,0.20],
  [15520,0.22],[15540,0.15],[15550,0.25],[15570,0.12],[15580,0.19],[15590,0.23],[15600,0.16],[15620,0.27],[15630,0.13],[15530,0.20],
  [15810,0.22],[15830,0.15],[15840,0.25],[15860,0.12],[15870,0.19],[15880,0.23],[15890,0.16],[15910,0.27],[15920,0.13],[15820,0.20],
  [16100,0.21],[16120,0.15],[16130,0.24],[16150,0.12],[16160,0.18],[16170,0.22],[16180,0.16],[16200,0.26],[16210,0.13],[16110,0.19],
  [16390,0.21],[16410,0.15],[16420,0.24],[16440,0.12],[16450,0.18],[16460,0.22],[16470,0.16],[16490,0.26],[16500,0.13],[16400,0.19],
  [16680,0.21],[16700,0.15],[16710,0.24],[16730,0.12],[16740,0.18],[16750,0.22],[16760,0.16],[16780,0.26],[16790,0.13],[16690,0.19],
  [16970,0.21],[16990,0.15],[17000,0.24],[17020,0.12],[17030,0.18],[17040,0.22],[17050,0.16],[17070,0.26],[17080,0.13],[16980,0.19],
  [17260,0.21],[17280,0.14],[17290,0.24],[17310,0.11],[17320,0.18],[17330,0.22],[17340,0.15],[17360,0.26],[17370,0.12],[17270,0.19],
  [17550,0.21],[17570,0.14],[17580,0.24],[17600,0.11],[17610,0.18],[17620,0.22],[17630,0.15],[17650,0.26],[17660,0.12],[17560,0.19],
  [17840,0.21],[17860,0.14],[17870,0.24],[17890,0.11],[17900,0.18],[17910,0.22],[17920,0.15],[17940,0.26],[17950,0.12],[17850,0.19],
  [18130,0.21],[18150,0.14],[18160,0.24],[18180,0.11],[18190,0.18],[18200,0.22],[18210,0.15],[18230,0.26],[18240,0.12],[18140,0.19],
  [18420,0.20],[18440,0.14],[18450,0.23],[18470,0.11],[18480,0.17],[18490,0.21],[18500,0.15],[18520,0.25],[18530,0.12],[18430,0.18],
  [18710,0.20],[18730,0.14],[18740,0.23],[18760,0.11],[18770,0.17],[18780,0.21],[18790,0.15],[18810,0.25],[18820,0.12],[18720,0.18],
  [19000,0.20],[19020,0.14],[19030,0.23],[19050,0.11],[19060,0.17],[19070,0.21],[19080,0.15],[19100,0.25],[19110,0.12],[19010,0.18],
  [19290,0.20],[19310,0.14],[19320,0.23],[19340,0.11],[19350,0.17],[19360,0.21],[19370,0.15],[19390,0.25],[19400,0.12],[19300,0.18],
  [19580,0.20],[19600,0.13],[19610,0.23],[19630,0.10],[19640,0.17],[19650,0.21],[19660,0.14],[19680,0.25],[19690,0.11],[19590,0.18],
  [19870,0.20],[19890,0.13],[19900,0.23],[19920,0.10],[19930,0.17],[19940,0.21],[19950,0.14],[19970,0.25],[19980,0.11],[19880,0.18],
  [20160,0.20],[20180,0.13],[20190,0.23],[20210,0.10],[20220,0.17],[20230,0.21],[20240,0.14],[20260,0.25],[20270,0.11],[20170,0.18],
  [20450,0.20],[20470,0.13],[20480,0.23],[20500,0.10],[20510,0.17],[20520,0.21],[20530,0.14],[20550,0.25],[20560,0.11],[20460,0.18],
  [20740,0.19],[20760,0.13],[20770,0.22],[20790,0.10],[20800,0.16],[20810,0.20],[20820,0.14],[20840,0.24],[20850,0.11],[20750,0.17],
  [21030,0.19],[21050,0.13],[21060,0.22],[21080,0.10],[21090,0.16],[21100,0.20],[21110,0.14],[21130,0.24],[21140,0.11],[21040,0.17],
  [21320,0.19],[21340,0.13],[21350,0.22],[21370,0.10],[21380,0.16],[21390,0.20],[21400,0.14],[21420,0.24],[21430,0.11],[21330,0.17],
  [21610,0.18],[21630,0.12],[21640,0.21],[21660,0.09],[21670,0.15],[21680,0.19],[21690,0.13],[21710,0.23],[21720,0.10],[21620,0.16]
];

// vertical markers: coast, end of land contamination, calibration window
var markerLines = [4000, 9000, 12000, 21000];
var xTicks = [0, 2000, 4000, 6000, 8000, 10000, 12000, 14000, 16000, 18000, 20000, 22000];

var fontFam = '"Liberation Sans", Arial, Helvetica, sans-serif';
var dotColor = '#0000ff';

function dots(name, data) {
  return {
    name: name,
    type: 'scatter',
    data: data,
    symbol: 'circle',
    symbolSize: 5,
    itemStyle: { color: dotColor },
    z: 3,
    silent: true
  };
}

function redLine(v) {
  return {
    type: 'line',
    data: [[v, -4], [v, 4]],
    symbol: 'none',
    lineStyle: { color: '#ff2020', width: 1 },
    z: 4,
    silent: true
  };
}

var chartDom = document.getElementById('divChart');
var myChart = echarts.init(chartDom, null, { renderer: 'canvas' });
var option;

var shelfSeries = dots('shelf', shelf);
shelfSeries.markLine = {
  silent: true,
  symbol: ['arrow', 'arrow'],
  symbolSize: [12, 17],
  label: { show: false },
  lineStyle: { color: '#1a1a1a', width: 1.3, type: 'solid' },
  data: [
    [{ coord: [4000, -1.06] }, { coord: [9000, -1.06] }],
    [{ coord: [12000, 1.84] }, { coord: [21000, 1.84] }],
    [{ coord: [5400, -3.35], symbol: 'none' }, { coord: [4040, -2.99] }]
  ]
};

var annoStyle = {
  show: true,
  fontFamily: fontFam,
  fontSize: 20,
  fontWeight: 'bold',
  color: '#111',
  formatter: '{b}'
};

var coreSeries = dots('coastCore', coastCore);
coreSeries.markPoint = {
  silent: true,
  symbol: 'circle',
  symbolSize: 0,
  data: [
    { name: 'Region Applied for Calibration', coord: [16450, 2.36],
      label: Object.assign({}, annoStyle, { position: 'inside' }) },
    { name: 'Land Contaminated Area for\nthe range altimeter\nmeasurements', coord: [4170, -1.6],
      label: Object.assign({}, annoStyle, { position: 'right', distance: 0, lineHeight: 23 }) },
    { name: 'Gavdos Coast', coord: [5450, -3.43],
      label: Object.assign({}, annoStyle, { position: 'right', distance: 0 }) }
  ]
};

var axisLineStyle = { color: '#262626', width: 1 };
var tickStyle = { show: true, inside: true, length: 12, lineStyle: { color: '#555', width: 1 } };

option = {
  backgroundColor: '#ffffff',
  animation: false,
  grid: { left: 62, right: 12, top: 43, bottom: 51, containLabel: false },
  xAxis: [
    {
      type: 'value', min: 0, max: 22000, interval: 2000, position: 'bottom',
      axisLine: { show: true, onZero: false, lineStyle: axisLineStyle },
      axisTick: tickStyle,
      splitLine: { show: false },
      axisLabel: {
        margin: 9, fontSize: 15, fontFamily: fontFam, color: '#111',
        formatter: function (v) { return xTicks.indexOf(v) < 0 ? '' : String(+(v / 10000).toFixed(1)); }
      }
    },
    {
      type: 'value', min: 0, max: 22000, interval: 2000, position: 'top',
      axisLine: { show: true, onZero: false, lineStyle: axisLineStyle },
      axisTick: tickStyle, axisLabel: { show: false }, splitLine: { show: false }
    }
  ],
  yAxis: [
    {
      type: 'value', min: -4, max: 4, interval: 1, position: 'left',
      axisLine: { show: true, onZero: false, lineStyle: axisLineStyle },
      axisTick: tickStyle,
      splitLine: { show: false },
      axisLabel: { margin: 8, fontSize: 15, fontFamily: fontFam, color: '#111' }
    },
    {
      type: 'value', min: -4, max: 4, interval: 1, position: 'right',
      axisLine: { show: true, onZero: false, lineStyle: axisLineStyle },
      axisTick: tickStyle, axisLabel: { show: false }, splitLine: { show: false }
    }
  ],
  graphic: [
    { type: 'text', x: 681, y: 19, silent: true,
      style: { text: 'Jason-2 Pass 109 (South of Gavdos) Cycles 2-79 Bias vs Distance from PCA',
        fontFamily: fontFam, fontSize: 23, fontWeight: 'bold', fill: '#111', align: 'center', verticalAlign: 'middle' } },
    { type: 'text', x: 681, y: 818, silent: true,
      style: { text: 'Distance from PCA in [meters]',
        fontFamily: fontFam, fontSize: 20, fontWeight: 'bold', fill: '#111', align: 'center', verticalAlign: 'middle' } },
    { type: 'text', x: 24, y: 412, rotation: Math.PI / 2, silent: true,
      style: { text: 'Jason-2 Bias estimation in [meters]',
        fontFamily: fontFam, fontSize: 20, fontWeight: 'bold', fill: '#111', align: 'center', verticalAlign: 'middle' } },
    { type: 'text', x: 1266, y: 827, silent: true,
      style: { text: 'x 10', fontFamily: fontFam, fontSize: 14, fill: '#111', align: 'left', verticalAlign: 'middle' } },
    { type: 'text', x: 1297, y: 819, silent: true,
      style: { text: '4', fontFamily: fontFam, fontSize: 9, fill: '#111', align: 'left', verticalAlign: 'middle' } }
  ],
  series: [
    coreSeries,
    dots('coastExtra', coastExtra),
    dots('coastHigh', coastHigh),
    dots('coastLow', coastLow),
    dots('shelfOutliers', shelfOutliers),
    shelfSeries,
    dots('shelfFill', shelfFill),
    dots('openSea', openSea),
    dots('openSeaFill', openSeaFill)
  ].concat(markerLines.map(redLine))
};

if (option && typeof option === 'object') {
  myChart.setOption(option);
}
window.addEventListener('resize', myChart.resize);
</script>
</body>
</html>
